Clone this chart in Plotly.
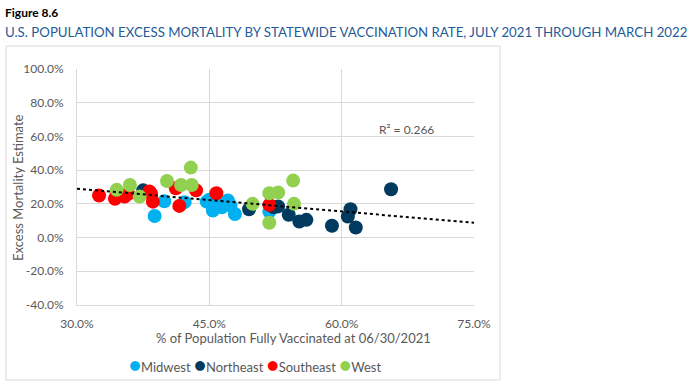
import numpy as np
import plotly.graph_objects as go

# ---- data (percent values) ----
midwest_x = [38.8, 39.9, 42.2, 44.7, 45.0, 45.4, 46.0, 46.4, 47.1, 47.4, 47.9, 51.8]
midwest_y = [12.8, 21.5, 21.0, 21.3, 22.5, 16.0, 19.5, 18.0, 22.0, 19.0, 14.0, 15.4]

northeast_x = [37.5, 49.5, 52.3, 52.8, 54.0, 55.2, 56.0, 58.9, 60.7, 61.0, 61.6, 65.6]
northeast_y = [28.0, 16.8, 18.0, 18.5, 13.5, 9.5, 10.5, 7.0, 12.5, 16.8, 6.0, 28.7]

southeast_x = [32.5, 34.3, 34.5, 35.4, 35.8, 38.2, 38.4, 38.6, 41.2, 41.6, 43.5, 45.8, 51.8]
southeast_y = [25.0, 23.0, 25.0, 24.3, 26.0, 27.3, 26.0, 21.3, 29.3, 18.8, 28.0, 26.3, 19.4]

west_x = [34.5, 36.0, 37.1, 40.2, 41.8, 43.0, 42.9, 49.9, 51.8, 52.8, 51.8, 54.5, 54.6]
west_y = [28.3, 31.2, 24.3, 33.6, 31.2, 31.2, 41.5, 20.0, 26.3, 26.7, 8.8, 33.8, 20.0]

series_names = ["Midwest", "Northeast", "Southeast", "West"]
series_colors = ["#00B0F0", "#003A5F", "#FF0000", "#92D050"]

x_ticks = [30, 45, 60, 75]
y_ticks = [-40, -20, 0, 20, 40, 60, 80, 100]
r2_label = "R² = 0.266"

FONT = "Lato"
GREY = "#595959"
GRID = "#D9D9D9"

W, H = 693, 391
L, R, T, B = 77, 219, 69, 86
pw, ph = W - L - R, H - T - B


def px2paper(px, py):
    return (px - L) / pw, (H - B - py) / ph


fig = go.Figure()
all_x, all_y = [], []
for name, col, xs, ys in zip(series_names, series_colors,
                             [midwest_x, northeast_x, southeast_x, west_x],
                             [midwest_y, northeast_y, southeast_y, west_y]):
    fig.add_trace(go.Scatter(x=xs, y=ys, mode="markers", name=name, showlegend=False,
                             marker=dict(color=col, size=14, line=dict(width=0))))
    all_x += xs
    all_y += ys

# linear trend line computed from the data
slope, intercept = np.polyfit(all_x, all_y, 1)
tx = np.array([x_ticks[0], x_ticks[-1]], dtype=float)
fig.add_trace(go.Scatter(x=tx, y=slope * tx + intercept, mode="lines",
                         line=dict(color="black", width=2, dash="dot"),
                         showlegend=False, hoverinfo="skip"))

fig.add_annotation(x=67.3, y=64, xref="x", yref="y", text=r2_label, showarrow=False,
                   font=dict(family=FONT, size=12, color=GREY))


def ann(px, py, text, size, color, xanchor="left", angle=0):
    xp, yp = px2paper(px, py)
    fig.add_annotation(x=xp, y=yp, xref="paper", yref="paper", text=text, showarrow=False,
                       xanchor=xanchor, yanchor="middle", textangle=angle,
                       font=dict(family=FONT, size=size, color=color))


ann(3, 13, "<b>Figure 8.6</b>", 12, "black")
ann(3, 32, "U.S. POPULATION EXCESS MORTALITY BY STATEWIDE VACCINATION RATE, JULY 2021 THROUGH MARCH 2022",
    13.25, "#1F5C99")
ann(293, 338, "% of Population Fully Vaccinated at 06/30/2021", 13, GREY, xanchor="center")
ann(18, 188, "Excess Mortality Estimate", 13, GREY, xanchor="center", angle=-90)

# legend (compact, like the original)
legend_text = "".join(
    f'<span style="color:{c};font-size:20px">●</span>{n} '
    for n, c in zip(series_names, series_colors))
ann(127, 364, legend_text.strip(), 13, GREY)

# chart border
bx0, by0 = px2paper(6, 380)
bx1, by1 = px2paper(500, 46)
fig.add_shape(type="rect", xref="paper", yref="paper", x0=bx0, y0=by0, x1=bx1, y1=by1,
              line=dict(color=GRID, width=1), layer="below")

fig.update_layout(
    width=W, height=H,
    margin=dict(l=L, r=R, t=T, b=B, autoexpand=False),
    paper_bgcolor="white", plot_bgcolor="white",
    font=dict(family=FONT, size=12, color=GREY),
    showlegend=False,
    xaxis=dict(range=[30, 75], tickvals=x_ticks, ticktext=[f"{v:.1f}%" for v in x_ticks],
               showgrid=True, gridcolor=GRID, gridwidth=1, zeroline=False,
               showline=True, linecolor=GRID, linewidth=1, ticks="", ticklabelstandoff=8,
               tickfont=dict(family=FONT, size=12, color=GREY)),
    yaxis=dict(range=[-40, 100], tickvals=y_ticks, ticktext=[f"{v:.1f}%" for v in y_ticks],
               showgrid=True, gridcolor=GRID, gridwidth=1, zeroline=False,
               showline=True, linecolor=GRID, linewidth=1, ticks="", ticklabelstandoff=10,
               tickfont=dict(family=FONT, size=12, color=GREY)),
)

fig.write_html("out.html", config={"displayModeBar": False},
               post_script="document.body.style.margin='0';document.body.style.overflow='hidden';")
